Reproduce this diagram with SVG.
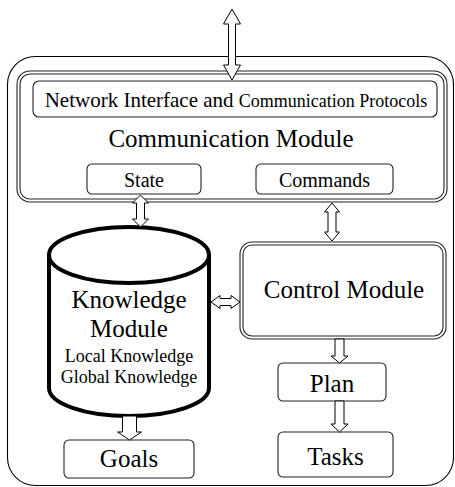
<svg xmlns="http://www.w3.org/2000/svg" width="455" height="487" viewBox="0 0 455 487">
  <style>
    .t { font-family: "Liberation Serif", "Times New Roman", serif; fill: #000; text-anchor: middle; }
    .box { fill: #fff; stroke: #222; stroke-width: 1.1; }
    .dbl { fill: none; stroke: #222; stroke-width: 1.1; }
    .arr { fill: #fff; stroke: #000; stroke-width: 1; stroke-linejoin: miter; }
  </style>
  <rect width="455" height="487" fill="#fff"/>

  <!-- agent boundary -->
  <g id="agent">
    <rect x="7.5" y="56.5" width="446" height="429" rx="28" ry="28" fill="none" stroke="#000" stroke-width="1.1"/>
  </g>

  <!-- communication module with its sub-parts -->
  <g id="communication-module">
    <rect class="dbl" x="17" y="71" width="430" height="131" rx="13" ry="13"/>
    <rect class="dbl" x="20" y="74" width="424" height="125" rx="10" ry="10"/>
    <text class="t" x="231" y="147" font-size="25">Communication Module</text>
  </g>
  <g id="network-interface">
    <rect class="box" x="33" y="81" width="404" height="36" rx="6" ry="6"/>
    <text class="t" x="236" y="107"><tspan font-size="21">Network Interface and </tspan><tspan font-size="18">Communication Protocols</tspan></text>
  </g>
  <g id="state">
    <rect class="box" x="87" y="164" width="114" height="30" rx="5" ry="5"/>
    <text class="t" x="144" y="187" font-size="20">State</text>
  </g>
  <g id="commands">
    <rect class="box" x="256" y="164" width="137" height="30" rx="5" ry="5"/>
    <text class="t" x="324.5" y="187" font-size="20">Commands</text>
  </g>

  <!-- knowledge module drawn as a database cylinder -->
  <g id="knowledge-module">
    <path d="M49,255 L49,388 A80,28 0 0 0 209,388 L209,255" fill="#fff" stroke="#000" stroke-width="4"/>
    <ellipse cx="129" cy="255" rx="80" ry="28" fill="#fff" stroke="#000" stroke-width="4"/>
    <text class="t" x="129" y="308" font-size="25">Knowledge</text>
    <text class="t" x="129" y="337" font-size="25">Module</text>
    <text class="t" x="129" y="362" font-size="18">Local Knowledge</text>
    <text class="t" x="129" y="383" font-size="18">Global Knowledge</text>
  </g>

  <g id="control-module">
    <rect class="dbl" x="240" y="242" width="206" height="97" rx="12" ry="12"/>
    <rect class="dbl" x="243" y="245" width="200" height="91" rx="9" ry="9"/>
    <text class="t" x="344" y="298" font-size="25">Control Module</text>
  </g>

  <g id="goals">
    <rect class="box" x="64" y="440" width="130" height="38" rx="5" ry="5"/>
    <text class="t" x="129" y="467" font-size="25">Goals</text>
  </g>
  <g id="plan">
    <rect class="box" x="278" y="363" width="108" height="38" rx="5" ry="5"/>
    <text class="t" x="332" y="392" font-size="25">Plan</text>
  </g>
  <g id="tasks">
    <rect class="box" x="278" y="432" width="115" height="45" rx="5" ry="5"/>
    <text class="t" x="335.5" y="465" font-size="25">Tasks</text>
  </g>

  <!-- block arrows between modules -->
  <g id="connectors">
    <polygon class="arr" points="232,9 240.5,24 235.5,24 235.5,65 240.5,65 232,80 223.5,65 228.5,65 228.5,24 223.5,24"/>
    <polygon class="arr" points="140.5,195 148.5,203 144.5,203 144.5,219 148.5,219 140.5,227 132.5,219 136.5,219 136.5,203 132.5,203"/>
    <polygon class="arr" points="332,203 339.5,212 336,212 336,232 339.5,232 332,241 324.5,232 328,232 328,212 324.5,212"/>
    <polygon class="arr" points="211,302 220,295.5 220,298.5 231,298.5 231,295.5 240,302 231,308.5 231,305.5 220,305.5 220,308.5"/>
    <polygon class="arr" points="335,339 344,339 344,356 348,356 339.5,363 331,356 335,356"/>
    <polygon class="arr" points="335,401 344,401 344,424 348,424 339.5,432 331,424 335,424"/>
    <polygon class="arr" points="122.5,416 136.5,416 136.5,432 141.5,432 129.5,440 117.5,432 122.5,432"/>
  </g>
</svg>
